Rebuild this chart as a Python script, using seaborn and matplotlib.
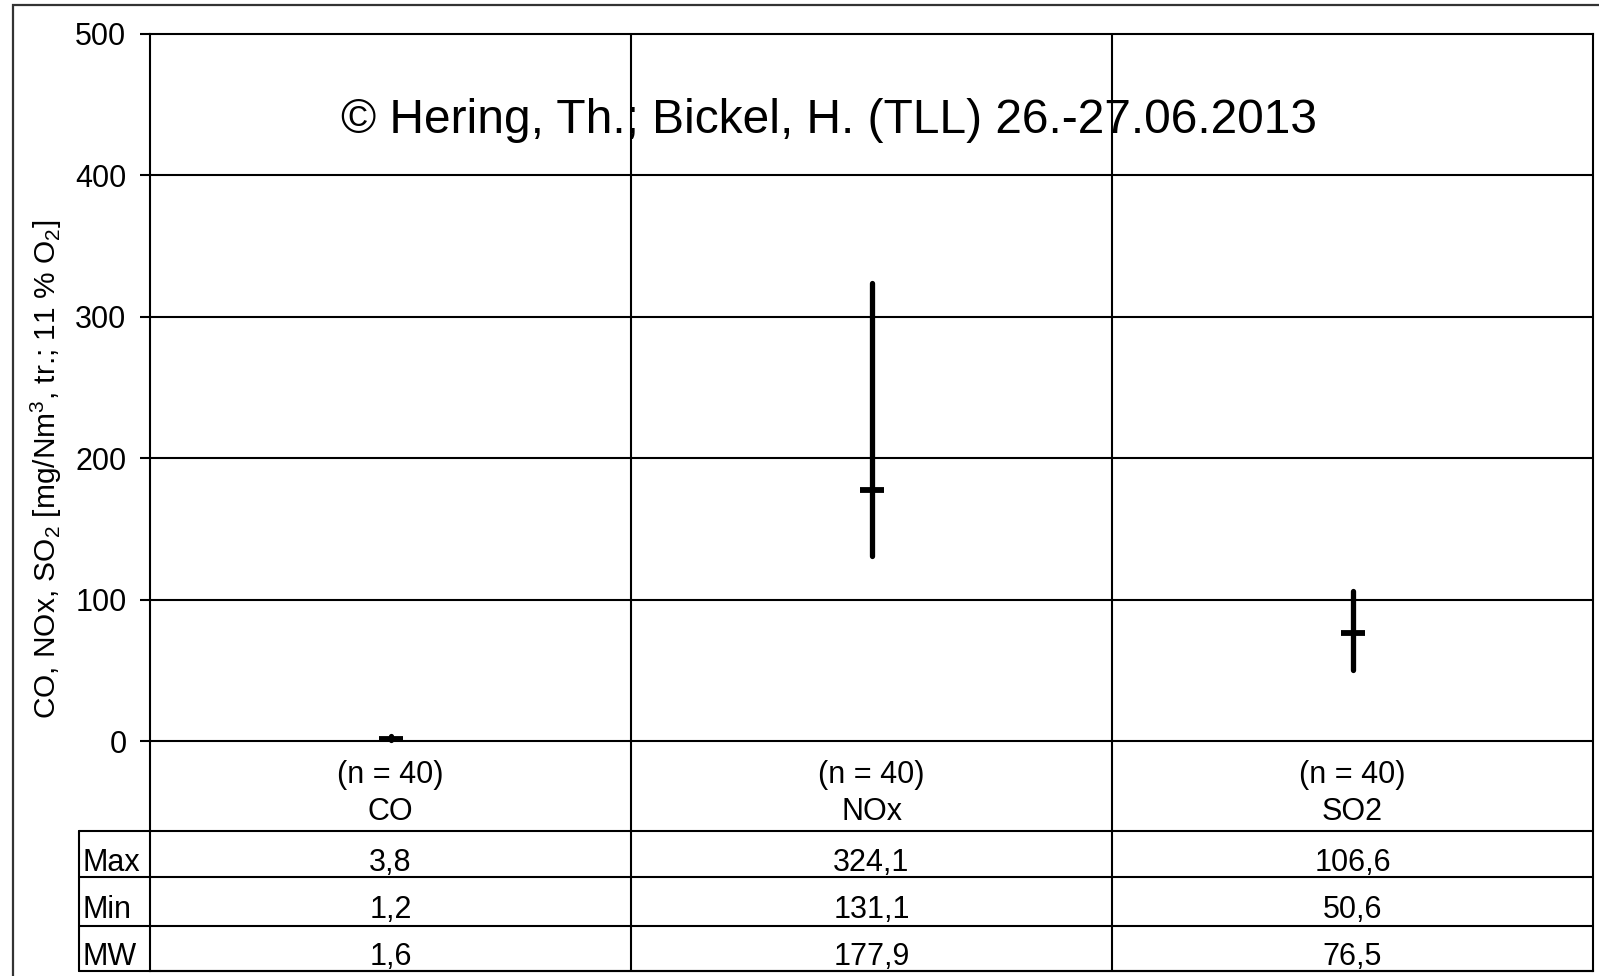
import matplotlib
matplotlib.use("Agg")
import matplotlib.pyplot as plt
import matplotlib.patches as mpatches
import seaborn as sns
import pandas as pd

categories = ["CO", "NOx", "SO2"]
n_values = [40, 40, 40]
max_values = [3.8, 324.1, 106.6]
min_values = [1.2, 131.1, 50.6]
mean_values = [1.6, 177.9, 76.5]
row_labels = ["Max", "Min", "MW"]
y_ticks = [0, 100, 200, 300, 400, 500]
copyright_text = "© Hering, Th.; Bickel, H. (TLL) 26.-27.06.2013"
y_label = "CO, NOx, SO$_2$ [mg/Nm$^3$, tr.; 11 % O$_2$]"

sns.set_theme(style="white")
plt.rcParams["font.family"] = ["Liberation Sans", "DejaVu Sans"]
plt.rcParams["mathtext.fontset"] = "custom"
plt.rcParams["mathtext.rm"] = "Liberation Sans"
plt.rcParams["mathtext.it"] = "Liberation Sans"
plt.rcParams["text.color"] = "black"
plt.rcParams["axes.labelcolor"] = "black"
plt.rcParams["ytick.color"] = "black"
plt.rcParams["xtick.color"] = "black"

W, H = 1599, 976
fig = plt.figure(figsize=(W / 100, H / 100), dpi=100)
fig.patch.set_facecolor("white")

# axes placement in pixels
left_px, right_px, top_px, bottom_px = 150, 1593, 33.7, 971
ax = fig.add_axes([left_px / W, (H - bottom_px) / H, (right_px - left_px) / W, (bottom_px - top_px) / H])
ax.set_facecolor("white")

px_per_unit = (741.4 - top_px) / 500.0
def py(pix):
    return (741.4 - pix) / px_per_unit
def px(pix):
    return -0.5 + (pix - left_px) / ((right_px - left_px) / 3)

y_bottom = py(bottom_px)
ax.set_xlim(-0.5, 2.5)
ax.set_ylim(y_bottom, 500)

lw = 1.5
for s in ax.spines.values():
    s.set_color("black")
    s.set_linewidth(lw)

# grid lines
for t in y_ticks[:-1]:
    ax.axhline(t, color="black", lw=lw, zorder=1)
# category dividers
for xv in [0.5, 1.5]:
    ax.axvline(xv, color="black", lw=lw, zorder=1)

ax.set_yticks(y_ticks)
ax.set_yticklabels([str(t) for t in y_ticks], fontsize=22, color="black")
ax.set_xticks([])
ax.tick_params(axis="y", left=True, length=7, width=lw, color="black", pad=10, direction="out")

# data: min-max lines and mean markers
pos = list(range(len(categories)))
df_range = pd.DataFrame({
    "pos": pos + pos,
    "value": min_values + max_values,
    "cat": categories + categories,
})
sns.lineplot(data=df_range, x="pos", y="value", units="cat", estimator=None,
             color="black", lw=3.8, sort=False, ax=ax, zorder=5, legend=False)
df_mean = pd.DataFrame({"pos": pos, "value": mean_values})
sns.scatterplot(data=df_mean, x="pos", y="value", marker="_", s=290,
                color="black", linewidth=4.2, ax=ax, zorder=6, legend=False)
ax.set_xlim(-0.5, 2.5)
ax.set_ylim(y_bottom, 500)
ax.set_xlabel("")
ax.set_ylabel(y_label, fontsize=21.5, labelpad=8, color="black")
ax.yaxis.label.set_y((bottom_px - 469) / (bottom_px - top_px))

# category labels
for i, c in enumerate(categories):
    ax.text(i, py(775), f"(n = {n_values[i]})", ha="center", va="center", fontsize=22)
    ax.text(i, py(812), c, ha="center", va="center", fontsize=22)

# table
table_left = px(79)
for yp in [831, 877, 926, 971]:
    ax.plot([table_left, 2.5], [py(yp), py(yp)], color="black", lw=lw, clip_on=False, zorder=3)
ax.plot([table_left, table_left], [py(831), py(971)], color="black", lw=lw, clip_on=False, zorder=3)

row_y = [863, 910, 957]
row_data = [max_values, min_values, mean_values]
for r, lab in enumerate(row_labels):
    ax.text(px(83), py(row_y[r]), lab, ha="left", va="center", fontsize=22, clip_on=False)
    for i in range(len(categories)):
        ax.text(i, py(row_y[r]), f"{row_data[r][i]:.1f}".replace(".", ","),
                ha="center", va="center", fontsize=22)

# copyright
ax.text(px(829), py(121), copyright_text, ha="center", va="center", fontsize=34.5, zorder=7)

# outer frame
fig.patches.append(mpatches.Rectangle((13 / W, -0.05), 1.1, 1 - 5 / H + 0.05,
                                      transform=fig.transFigure, fill=False,
                                      edgecolor="#333333", lw=1.6))

fig.savefig("out.png", dpi=100, facecolor="white")
